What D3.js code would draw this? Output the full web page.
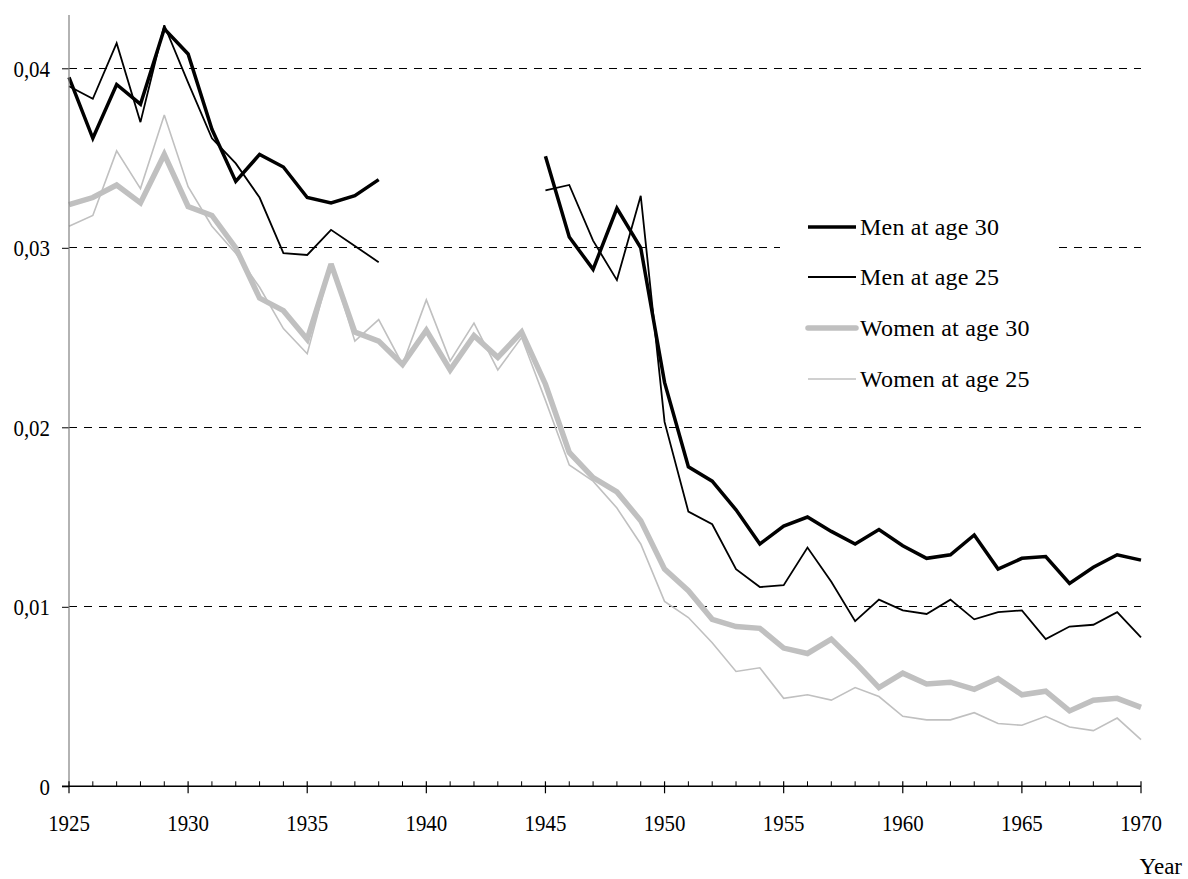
<!DOCTYPE html>
<html>
<head>
<meta charset="utf-8">
<script src="https://cdn.jsdelivr.net/npm/d3@7"></script>
<style>
  html, body { margin: 0; padding: 0; background: #fff; }
  svg { display: block; }
  text { font-family: "Liberation Serif", "Times New Roman", serif; fill: #000; }
</style>
</head>
<body>
<svg id="chart" width="1188" height="879"></svg>
<script>
const years = d3.range(1925, 1971);
const yTicks = [0, 0.01, 0.02, 0.03, 0.04];
const yTickLabels = ["0", "0,01", "0,02", "0,03", "0,04"];
const xTicks = [1925, 1930, 1935, 1940, 1945, 1950, 1955, 1960, 1965, 1970];
const seriesNames = ["Men at age 30", "Men at age 25", "Women at age 30", "Women at age 25"];

const men30 = [0.0395, 0.0361, 0.0391, 0.0380, 0.0422, 0.0408, 0.0366, 0.0337, 0.0352, 0.0345,
  0.0328, 0.0325, 0.0329, 0.0338, null, null, null, null, null, null,
  0.0351, 0.0306, 0.0288, 0.0322, 0.0300, 0.0225, 0.0178, 0.0170, 0.0154, 0.0135,
  0.0145, 0.0150, 0.0142, 0.0135, 0.0143, 0.0134, 0.0127, 0.0129, 0.0140, 0.0121,
  0.0127, 0.0128, 0.0113, 0.0122, 0.0129, 0.0126];
const men25 = [0.0390, 0.0383, 0.0414, 0.0370, 0.0424, 0.0392, 0.0361, 0.0347, 0.0328, 0.0297,
  0.0296, 0.0310, 0.0301, 0.0292, null, null, null, null, null, null,
  0.0332, 0.0335, 0.0304, 0.0282, 0.0329, 0.0203, 0.0153, 0.0146, 0.0121, 0.0111,
  0.0112, 0.0133, 0.0114, 0.0092, 0.0104, 0.0098, 0.0096, 0.0104, 0.0093, 0.0097,
  0.0098, 0.0082, 0.0089, 0.0090, 0.0097, 0.0083];
const women30 = [0.0324, 0.0328, 0.0335, 0.0325, 0.0352, 0.0323, 0.0318, 0.0300, 0.0272, 0.0265,
  0.0249, 0.0291, 0.0253, 0.0248, 0.0235, 0.0254, 0.0232, 0.0251, 0.0239, 0.0253,
  0.0224, 0.0186, 0.0172, 0.0164, 0.0148, 0.0121, 0.0109, 0.0093, 0.0089, 0.0088,
  0.0077, 0.0074, 0.0082, 0.0069, 0.0055, 0.0063, 0.0057, 0.0058, 0.0054, 0.0060,
  0.0051, 0.0053, 0.0042, 0.0048, 0.0049, 0.0044];
const women25 = [0.0312, 0.0318, 0.0354, 0.0333, 0.0374, 0.0334, 0.0312, 0.0297, 0.0278, 0.0255,
  0.0241, 0.0291, 0.0248, 0.0260, 0.0235, 0.0271, 0.0237, 0.0258, 0.0232, 0.0250,
  0.0215, 0.0179, 0.0170, 0.0155, 0.0135, 0.0103, 0.0094, 0.0080, 0.0064, 0.0066,
  0.0049, 0.0051, 0.0048, 0.0055, 0.0050, 0.0039, 0.0037, 0.0037, 0.0041, 0.0035,
  0.0034, 0.0039, 0.0033, 0.0031, 0.0038, 0.0026];

const seriesValues = [men30, men25, women30, women25];
const seriesStyle = [
  { color: "#000000", width: 3.5 },
  { color: "#000000", width: 1.8 },
  { color: "#c0c0c0", width: 5.5 },
  { color: "#c0c0c0", width: 1.6 }
];
const drawOrder = [3, 2, 1, 0];

const svg = d3.select("#chart");
const x = d3.scaleLinear().domain([1925, 1970]).range([69, 1141]);
const y = d3.scaleLinear().domain([0, 0.04]).range([786.3, 68.3]);

// gridlines
svg.append("g").selectAll("line")
  .data(yTicks.filter(d => d > 0))
  .join("line")
  .attr("x1", x(1925)).attr("x2", x(1970))
  .attr("y1", d => y(d)).attr("y2", d => y(d))
  .attr("stroke", "#000").attr("stroke-width", 1)
  .attr("stroke-dasharray", "8,7")
  .attr("shape-rendering", "crispEdges");

// lines
const line = d3.line()
  .defined(d => d.v != null)
  .x(d => x(d.year))
  .y(d => y(d.v))
  .curve(d3.curveLinear);

const gLines = svg.append("g");
drawOrder.forEach(i => {
  const data = years.map((yr, k) => ({ year: yr, v: seriesValues[i][k] }));
  gLines.append("path")
    .datum(data)
    .attr("fill", "none")
    .attr("stroke", seriesStyle[i].color)
    .attr("stroke-width", seriesStyle[i].width)
    .attr("stroke-linejoin", "miter")
    .attr("stroke-miterlimit", 3)
    .attr("d", line);
});

// y axis
const yAxis = d3.axisLeft(y).tickValues(yTicks)
  .tickFormat((d, i) => yTickLabels[i]).tickSize(7).tickPadding(12);
const gy = svg.append("g").attr("transform", `translate(${x(1925)},0)`).call(yAxis);
gy.select(".domain").remove();
gy.append("line").attr("x1", 0).attr("x2", 0).attr("y1", 15).attr("y2", y(0))
  .attr("stroke", "#808080").attr("stroke-width", 1.2);
gy.selectAll(".tick line").attr("stroke", "#000");
gy.selectAll(".tick text").each(function () {
  const t = d3.select(this);
  const ty = +t.attr("y") || 0;
  t.attr("x", null).attr("dy", null).attr("y", null)
    .attr("transform", "translate(-19,8) scale(0.87,1)")
    .style("font-family", '"Liberation Serif", serif').style("font-size", "24px").attr("fill", "#000");
});

// x axis: minor ticks (above), major ticks (crossing)
const gx = svg.append("g");
gx.selectAll("line.minor")
  .data(years.filter(d => d % 5 !== 0))
  .join("line").attr("class", "minor")
  .attr("x1", d => x(d)).attr("x2", d => x(d))
  .attr("y1", y(0) - 5).attr("y2", y(0))
  .attr("stroke", "#000").attr("stroke-width", 1);
gx.selectAll("line.major")
  .data(xTicks)
  .join("line").attr("class", "major")
  .attr("x1", d => x(d)).attr("x2", d => x(d))
  .attr("y1", y(0) - 5).attr("y2", y(0) + 7)
  .attr("stroke", "#000").attr("stroke-width", 1.2);
gx.append("line")
  .attr("x1", x(1925) - 7).attr("x2", x(1970))
  .attr("y1", y(0)).attr("y2", y(0))
  .attr("stroke", "#000").attr("stroke-width", 1.5);
gx.selectAll("text.xl")
  .data(xTicks)
  .join("text").attr("class", "xl")
  .attr("transform", d => `translate(${x(d)},831) scale(0.87,1)`)
  .attr("text-anchor", "middle")
  .style("font-size", "24px")
  .text(d => d);

svg.append("text").attr("x", 1182).attr("y", 874).attr("text-anchor", "end")
  .style("font-size", "23px").text("Year");

// legend
const legend = svg.append("g");
legend.append("rect").attr("x", 780).attr("y", 200).attr("width", 275).attr("height", 205).attr("fill", "#fff");
const legendY = [227, 277, 328, 379];
seriesNames.forEach((name, i) => {
  legend.append("line")
    .attr("x1", 808).attr("x2", 856)
    .attr("y1", legendY[i]).attr("y2", legendY[i])
    .attr("stroke", seriesStyle[i].color)
    .attr("stroke-width", seriesStyle[i].width)
    .attr("stroke-linecap", i === 2 ? "round" : "butt");
  legend.append("text")
    .attr("x", 860).attr("y", legendY[i]).attr("dy", "0.33em")
    .style("font-size", "24px").style("letter-spacing", "0.2px")
    .text(name);
});
</script>
</body>
</html>
